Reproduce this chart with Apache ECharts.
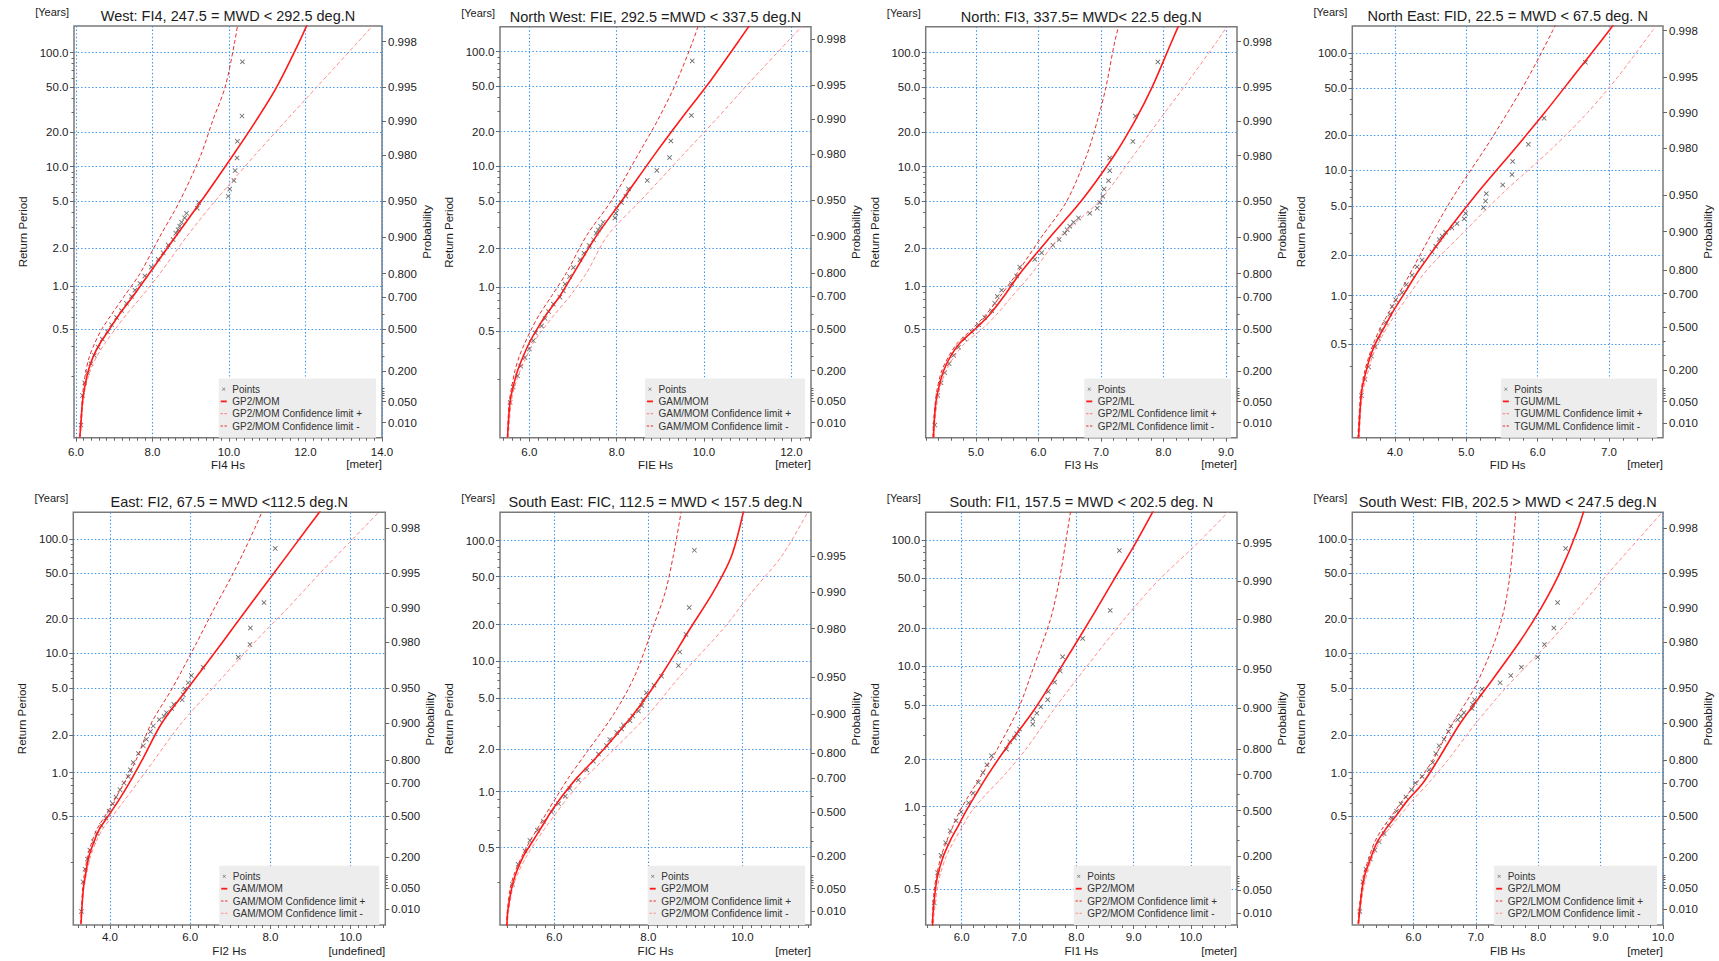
<!DOCTYPE html>
<html>
<head>
<meta charset="utf-8">
<title>Hs return periods by wave direction sector</title>
<script src="https://cdn.jsdelivr.net/npm/echarts@6/dist/echarts.min.js"></script>
<style>
  html, body { margin: 0; padding: 0; background: #ffffff; }
  #chart { width: 1719px; height: 961px; }
</style>
</head>
<body>
<div id="chart"></div>
<script>
// ---------------------------------------------------------------------------
// Shared levels
// ---------------------------------------------------------------------------
// Non-exceedance probabilities at which the fitted curves are tabulated
const probLevels = [0.002, 0.01, 0.05, 0.1, 0.2, 0.3, 0.4, 0.5, 0.6, 0.7, 0.8, 0.9, 0.95, 0.98, 0.99, 0.995, 0.998, 0.999];
// Return periods (years) of the ranked storm peaks, largest first
const rankPeriods = [83.0, 27.7, 16.6, 11.9, 9.22, 7.55, 6.38, 5.53, 4.88, 4.37, 3.95, 3.61, 3.32, 3.07, 2.86, 2.68, 2.37, 2.13,
  1.84, 1.63, 1.41, 1.20, 1.05, 0.933, 0.838, 0.748, 0.664, 0.597, 0.535, 0.485, 0.439, 0.397, 0.362, 0.333, 0.308, 0.287, 0.269, 0.252];
// Left axis (return period) and right axis (probability) tick values
const periodTicks = [0.5, 1, 2, 5, 10, 20, 50, 100];
const periodMinorTicks = [0.3, 0.4, 0.6, 0.7, 0.8, 0.9, 3, 4, 6, 7, 8, 9, 30, 40, 60, 70, 80, 90, 200];
const probTicks = [0.01, 0.05, 0.2, 0.5, 0.7, 0.8, 0.9, 0.95, 0.98, 0.99, 0.995, 0.998];
const probMinorTicks = [0.06, 0.07, 0.08, 0.09, 0.1, 0.3, 0.4, 0.6];

// Sector labels
const sectorTitles = [
  'West: FI4, 247.5 = MWD < 292.5 deg.N',
  'North West: FIE, 292.5 =MWD < 337.5 deg.N',
  'North: FI3, 337.5= MWD< 22.5 deg.N',
  'North East: FID, 22.5 = MWD < 67.5 deg. N',
  'East: FI2, 67.5 = MWD <112.5 deg.N',
  'South East: FIC, 112.5 = MWD < 157.5 deg.N',
  'South: FI1, 157.5 = MWD < 202.5 deg. N',
  'South West: FIB, 202.5 > MWD < 247.5 deg.N'
];
const hsNames = ['FI4 Hs', 'FIE Hs', 'FI3 Hs', 'FID Hs', 'FI2 Hs', 'FIC Hs', 'FI1 Hs', 'FIB Hs'];
const unitLabels = ['[meter]', '[meter]', '[meter]', '[meter]', '[undefined]', '[meter]', '[meter]', '[meter]'];
const fitMethods = ['GP2/MOM', 'GAM/MOM', 'GP2/ML', 'TGUM/ML', 'GAM/MOM', 'GP2/MOM', 'GP2/MOM', 'GP2/LMOM'];
// Storm events per year in each sector
const eventRates = [4.0, 3.9, 4.0, 3.23, 4.0, 2.69, 2.11, 4.0];

// ---------------------------------------------------------------------------
// West (FI4)
const westTicks = [6, 8, 10, 12, 14];
const westFit   = [6.10, 6.13, 6.17, 6.22, 6.32, 6.45, 6.63, 6.87, 7.13, 7.48, 7.91, 8.60, 9.27, 10.10, 10.70, 11.25, 11.84, 12.24];
const westUpper = [6.10, 6.12, 6.16, 6.19, 6.26, 6.35, 6.49, 6.67, 6.93, 7.25, 7.67, 8.19, 8.71, 9.26, 9.57, 9.90, 10.15, 10.30];
const westLower = [6.11, 6.14, 6.19, 6.24, 6.37, 6.54, 6.76, 7.02, 7.32, 7.71, 8.19, 8.89, 9.63, 10.67, 11.48, 12.30, 13.38, 14.19];
const westPoints = [10.35, 10.34, 10.22, 10.21, 10.16, 10.13, 10.02, 9.98, 9.21, 9.17, 8.89, 8.84, 8.76, 8.71, 8.67, 8.61, 8.54, 8.41,
  8.28, 8.15, 7.97, 7.80, 7.67, 7.54, 7.45, 7.32, 7.19, 7.06, 6.93, 6.82, 6.69, 6.58, 6.48, 6.39, 6.30, 6.23, 6.17, 6.13];

// North West (FIE)
const nwTicks = [6, 8, 10, 12];
const nwFit   = [5.50, 5.52, 5.56, 5.62, 5.73, 5.86, 6.00, 6.18, 6.40, 6.70, 7.02, 7.54, 8.13, 8.88, 9.47, 10.08, 10.82, 11.36];
const nwUpper = [5.50, 5.51, 5.54, 5.59, 5.67, 5.77, 5.90, 6.05, 6.24, 6.51, 6.85, 7.31, 7.89, 8.50, 8.95, 9.34, 9.76, 10.02];
const nwLower = [5.52, 5.54, 5.59, 5.65, 5.79, 5.94, 6.09, 6.32, 6.59, 6.93, 7.31, 7.79, 8.56, 9.54, 10.28, 10.99, 11.96, 12.69];
const nwPoints = [9.73, 9.71, 9.24, 9.21, 8.92, 8.70, 8.27, 8.21, 8.11, 8.00, 7.98, 7.96, 7.69, 7.63, 7.58, 7.53, 7.47, 7.37,
  7.25, 7.16, 7.01, 6.92, 6.82, 6.78, 6.70, 6.55, 6.44, 6.36, 6.28, 6.14, 6.09, 6.00, 5.90, 5.80, 5.73, 5.63, 5.56];

// North (FI3)
const northTicks = [5, 6, 7, 8, 9];
const northFit   = [4.32, 4.33, 4.36, 4.40, 4.48, 4.59, 4.74, 4.98, 5.22, 5.44, 5.70, 6.19, 6.68, 7.21, 7.54, 7.82, 8.13, 8.37];
const northUpper = [4.31, 4.32, 4.35, 4.38, 4.45, 4.56, 4.70, 4.93, 5.16, 5.38, 5.65, 6.05, 6.45, 6.77, 6.94, 7.08, 7.22, 7.36];
const northLower = [4.33, 4.34, 4.38, 4.42, 4.52, 4.65, 4.82, 5.09, 5.33, 5.57, 5.89, 6.34, 6.97, 7.52, 7.92, 8.33, 8.85, 9.22];
const northPoints = [7.91, 7.55, 7.51, 7.14, 7.14, 7.12, 7.05, 7.03, 6.98, 6.94, 6.82, 6.64, 6.56, 6.50, 6.46, 6.42, 6.33, 6.23,
  6.05, 5.94, 5.70, 5.65, 5.57, 5.41, 5.34, 5.30, 5.25, 5.14, 5.04, 4.93, 4.82, 4.72, 4.64, 4.57, 4.50, 4.44, 4.39, 4.34];

// North East (FID)
const neTicks = [4, 5, 6, 7];
const neFit   = [3.49, 3.50, 3.52, 3.54, 3.60, 3.66, 3.74, 3.85, 3.97, 4.13, 4.34, 4.73, 5.13, 5.69, 6.10, 6.49, 7.00, 7.37];
const neUpper = [3.48, 3.49, 3.51, 3.53, 3.58, 3.64, 3.71, 3.80, 3.92, 4.06, 4.24, 4.53, 4.83, 5.27, 5.58, 5.87, 6.21, 6.44];
const neLower = [3.50, 3.51, 3.53, 3.56, 3.63, 3.69, 3.78, 3.89, 4.03, 4.21, 4.45, 4.97, 5.48, 6.21, 6.70, 7.12, 7.61, 7.98];
const nePoints = [6.67, 6.09, 5.87, 5.65, 5.64, 5.51, 5.28, 5.27, 5.24, 4.99, 4.97, 4.87, 4.80, 4.71, 4.66, 4.62, 4.57, 4.52,
  4.38, 4.31, 4.24, 4.16, 4.10, 4.01, 3.96, 3.93, 3.87, 3.81, 3.77, 3.72, 3.67, 3.63, 3.58, 3.53];

// East (FI2)
const eastTicks = [4, 6, 8, 10];
const eastFit   = [3.28, 3.30, 3.34, 3.39, 3.47, 3.59, 3.73, 3.96, 4.21, 4.48, 4.80, 5.29, 5.95, 6.81, 7.44, 8.08, 8.92, 9.56];
const eastUpper = [3.27, 3.29, 3.32, 3.36, 3.44, 3.54, 3.67, 3.88, 4.10, 4.35, 4.65, 5.03, 5.56, 6.17, 6.61, 7.07, 7.61, 7.98];
const eastLower = [3.29, 3.30, 3.35, 3.41, 3.51, 3.64, 3.81, 4.07, 4.35, 4.68, 5.10, 5.78, 6.57, 7.61, 8.44, 9.23, 10.31, 11.14];
const eastPoints = [8.12, 7.84, 7.50, 7.49, 7.20, 6.32, 6.03, 5.95, 5.87, 5.83, 5.80, 5.59, 5.54, 5.41, 5.35, 5.23, 5.08, 5.01,
  4.91, 4.83, 4.71, 4.58, 4.51, 4.46, 4.35, 4.25, 4.15, 4.07, 3.98, 3.90, 3.79, 3.68, 3.59, 3.50, 3.44, 3.38, 3.33, 3.29];

// South East (FIC)
const seTicks = [6, 8, 10];
const seFit   = [4.99, 5.01, 5.09, 5.17, 5.34, 5.54, 5.73, 5.92, 6.16, 6.48, 6.97, 7.68, 8.25, 8.89, 9.38, 9.77, 10.04, 10.18];
const seUpper = [4.98, 5.00, 5.06, 5.14, 5.31, 5.48, 5.66, 5.84, 6.05, 6.30, 6.67, 7.26, 7.70, 8.09, 8.36, 8.53, 8.71, 8.82];
const seLower = [4.99, 5.03, 5.11, 5.21, 5.41, 5.61, 5.82, 6.05, 6.30, 6.65, 7.18, 8.00, 8.66, 9.60, 10.20, 10.84, 11.44, 11.87];
const sePoints = [8.98, 8.87, 8.80, 8.67, 8.64, 8.28, 8.12, 7.96, 7.89, 7.86, 7.79, 7.67, 7.61, 7.47, 7.43, 7.33, 7.18, 7.11,
  6.94, 6.83, 6.69, 6.51, 6.33, 6.23, 6.09, 5.94, 5.77, 5.64, 5.48, 5.38, 5.23, 5.11];

// South (FI1)
const southTicks = [6, 7, 8, 9, 10];
const southFit   = [5.49, 5.50, 5.54, 5.58, 5.68, 5.80, 5.94, 6.08, 6.25, 6.46, 6.76, 7.28, 7.71, 8.25, 8.64, 9.03, 9.50, 9.81];
const southUpper = [5.48, 5.49, 5.52, 5.56, 5.64, 5.74, 5.85, 5.97, 6.14, 6.35, 6.62, 6.99, 7.24, 7.55, 7.70, 7.81, 7.94, 7.98];
const southLower = [5.50, 5.52, 5.57, 5.62, 5.73, 5.87, 6.02, 6.18, 6.43, 6.75, 7.12, 7.62, 8.14, 8.84, 9.42, 10.11, 10.96, 11.58];
const southPoints = [8.75, 8.59, 8.11, 7.76, 7.72, 7.62, 7.51, 7.50, 7.38, 7.31, 7.24, 7.24, 7.01, 6.96, 6.92, 6.84, 6.78, 6.52,
  6.44, 6.37, 6.29, 6.20, 6.12, 5.99, 5.90, 5.80, 5.72, 5.64, 5.58, 5.52];

// South West (FIB)
const swTicks = [6, 7, 8, 9, 10];
const swFit   = [5.12, 5.14, 5.18, 5.22, 5.32, 5.41, 5.55, 5.72, 5.90, 6.15, 6.39, 6.75, 7.17, 7.70, 8.05, 8.34, 8.64, 8.81];
const swUpper = [5.11, 5.13, 5.17, 5.20, 5.29, 5.37, 5.49, 5.65, 5.82, 6.05, 6.31, 6.63, 6.98, 7.30, 7.46, 7.55, 7.62, 7.66];
const swLower = [5.12, 5.15, 5.20, 5.25, 5.34, 5.45, 5.60, 5.78, 5.98, 6.24, 6.55, 7.00, 7.48, 8.18, 8.66, 9.12, 9.76, 10.24];
const swPoints = [8.44, 8.31, 8.25, 8.10, 7.99, 7.73, 7.56, 7.39, 7.10, 7.08, 6.98, 6.95, 6.94, 6.81, 6.76, 6.71, 6.60, 6.56,
  6.49, 6.41, 6.36, 6.31, 6.25, 6.14, 6.03, 5.97, 5.88, 5.80, 5.73, 5.66, 5.60, 5.53, 5.45, 5.38, 5.31, 5.24, 5.19, 5.14];

// ---------------------------------------------------------------------------
// Panel layout: plot rectangle [left, top, right, bottom] in px, Hs range,
// and vertical range in Gumbel reduced variate.
// ---------------------------------------------------------------------------
const panels = [
  { key: 'W',  rect: [74, 26, 382, 437.7],        xRange: [5.948, 14.0],  gRange: [-1.832, 6.532], ticks: westTicks,  fit: westFit,  upper: westUpper,  lower: westLower,  points: westPoints },
  { key: 'NW', rect: [500, 26.7, 811, 437.7],     xRange: [5.328, 12.45], gRange: [-1.830, 6.470], ticks: nwTicks,    fit: nwFit,    upper: nwUpper,    lower: nwLower,    points: nwPoints },
  { key: 'N',  rect: [925.7, 26.7, 1237, 437.7],  xRange: [4.195, 9.176], gRange: [-1.832, 6.519], ticks: northTicks, fit: northFit, upper: northUpper, lower: northLower, points: northPoints },
  { key: 'NE', rect: [1352.3, 26, 1663, 437.7],   xRange: [3.402, 7.757], gRange: [-1.810, 6.306], ticks: neTicks,    fit: neFit,    upper: neUpper,    lower: neLower,    points: nePoints },
  { key: 'E',  rect: [73.3, 512.3, 385.3, 925],   xRange: [3.087, 10.863], gRange: [-1.852, 6.539], ticks: eastTicks, fit: eastFit,  upper: eastUpper,  lower: eastLower,  points: eastPoints },
  { key: 'SE', rect: [500, 512.3, 811, 925],      xRange: [4.844, 11.461], gRange: [-1.796, 6.135], ticks: seTicks,   fit: seFit,    upper: seUpper,    lower: seLower,    points: sePoints },
  { key: 'S',  rect: [925.7, 512.3, 1237, 925],   xRange: [5.372, 10.802], gRange: [-1.742, 5.868], ticks: southTicks, fit: southFit, upper: southUpper, lower: southLower, points: southPoints },
  { key: 'SW', rect: [1352.3, 512.3, 1663, 925],  xRange: [5.020, 10.0],  gRange: [-1.852, 6.539], ticks: swTicks,   fit: swFit,    upper: swUpper,    lower: swLower,    points: swPoints }
];

// ---------------------------------------------------------------------------
// Gumbel probability paper
// ---------------------------------------------------------------------------
const gumbel = p => -Math.log(-Math.log(p));
const probOfG = g => Math.exp(-Math.exp(-g));
const gOfPeriod = (T, rate) => { const p = 1 - 1 / (rate * T); return p > 0 ? gumbel(p) : NaN; };
const periodOfG = (g, rate) => 1 / (rate * (1 - probOfG(g)));
function stepValues(lo, hi, step) {
  const out = [];
  for (let k = Math.ceil(lo / step - 1e-9); k * step <= hi + 1e-9; k++) out.push(+(k * step).toFixed(4));
  return out;
}

const FONT = '"Liberation Sans", Arial, Helvetica, sans-serif';
const CW = 1719, CH = 961;
const TEXT = '#1c1c1c';
const FRAME = '#7a7a7a';
const TICK = { color: '#666666', width: 1 };
const GRID_DOTS = { color: '#3a93ee', width: 1.1, type: [1.4, 2.2] };
const RED = '#ff1a1a';
const DARK_DASH = '#e62e2e';
const LIGHT_DASH = '#ff8c8c';
// Marker and legend glyphs
const CROSS = 'path://M0,1.2L1.2,0L5,3.8L8.8,0L10,1.2L6.2,5L10,8.8L8.8,10L5,6.2L1.2,10L0,8.8L3.8,5Z';
const CROSS_ICON = 'path://M0,0M7,10M1.8,3.7L2.2,3.3L3.5,4.6L4.8,3.3L5.2,3.7L3.9,5L5.2,6.3L4.8,6.7L3.5,5.4L2.2,6.7L1.8,6.3L3.1,5Z';
const SOLID_ICON = 'path://M0,0M7,10M0.5,4.1h6v1.8h-6z';
const DASH_ICON = 'path://M0,0M7,10M0.3,4.4h2.4v1.1h-2.4zM4.2,4.4h2.4v1.1h-2.4z';

const option = {
  animation: false,
  backgroundColor: '#ffffff',
  textStyle: { fontFamily: FONT },
  grid: [], xAxis: [], yAxis: [], series: [], legend: [], graphic: []
};

panels.forEach((p, i) => {
  const [L, T, R, B] = p.rect;
  const row = i < 4 ? 0 : 1;
  const rate = eventRates[i];
  const method = fitMethods[i];

  option.grid.push({
    left: L, top: T, width: R - L, height: B - T,
    show: true, borderColor: FRAME, borderWidth: 1.5, backgroundColor: 'rgba(0,0,0,0)',
    containLabel: false, outerBoundsMode: 'none'
  });

  const labelStyle = { fontSize: 11.5, color: TEXT, fontFamily: FONT };
  const [gMin, gMax] = p.gRange;
  const noLine = { show: false, onZero: false };

  // Hs axis with gridlines, plus a companion carrying the minor ticks
  option.xAxis.push({
    type: 'value', gridIndex: i, min: p.xRange[0], max: p.xRange[1], position: 'bottom',
    axisLine: noLine,
    axisTick: { show: true, customValues: p.ticks, length: 4, lineStyle: TICK },
    axisLabel: Object.assign({ customValues: p.ticks, margin: row === 0 ? 8 : 6, formatter: v => v.toFixed(1) }, labelStyle),
    splitLine: { show: true, lineStyle: GRID_DOTS },
    name: hsNames[i], nameLocation: 'middle', nameGap: 20,
    nameTextStyle: labelStyle
  });
  option.xAxis.push({
    type: 'value', gridIndex: i, min: p.xRange[0], max: p.xRange[1], position: 'bottom',
    axisLine: noLine,
    axisTick: { show: true, customValues: stepValues(p.xRange[0], p.xRange[1], 0.2), length: 3, lineStyle: TICK },
    axisLabel: { show: false }, splitLine: { show: false }
  });

  const yBase = { type: 'value', gridIndex: i, min: gMin, max: gMax, axisLine: noLine };
  const inRange = v => isFinite(v) && v >= gMin && v <= gMax;
  const periodVals = periodTicks.map(t => gOfPeriod(t, rate)).filter(inRange);
  const periodMinorVals = periodMinorTicks.map(t => gOfPeriod(t, rate)).filter(inRange);
  const probVals = probTicks.map(gumbel).filter(inRange);
  const probMinorVals = probMinorTicks.map(gumbel).filter(inRange);

  // Return period (left) with horizontal gridlines
  option.yAxis.push(Object.assign({}, yBase, {
    position: 'left',
    axisTick: { show: true, customValues: periodVals, length: 4, lineStyle: TICK },
    axisLabel: Object.assign({ customValues: periodVals, margin: 5.5, formatter: v => periodOfG(v, rate).toFixed(1) }, labelStyle),
    splitLine: { show: true, lineStyle: GRID_DOTS },
    name: 'Return Period', nameLocation: 'middle', nameGap: 45, nameRotate: 90,
    nameTextStyle: labelStyle
  }));
  // Probability (right)
  option.yAxis.push(Object.assign({}, yBase, {
    position: 'right',
    axisTick: { show: true, customValues: probVals, length: 4, lineStyle: TICK },
    axisLabel: Object.assign({ customValues: probVals, margin: 6, formatter: v => probOfG(v).toFixed(3) }, labelStyle),
    splitLine: { show: false },
    name: 'Probability', nameLocation: 'middle', nameGap: 37, nameRotate: 90,
    nameTextStyle: labelStyle
  }));
  // Minor ticks on both vertical axes
  option.yAxis.push(Object.assign({}, yBase, {
    position: 'left',
    axisTick: { show: true, customValues: periodMinorVals, length: 2.5, lineStyle: TICK },
    axisLabel: { show: false }, splitLine: { show: false }
  }));
  option.yAxis.push(Object.assign({}, yBase, {
    position: 'right',
    axisTick: { show: true, customValues: probMinorVals, length: 2.5, lineStyle: TICK },
    axisLabel: { show: false }, splitLine: { show: false }
  }));

  const xIdx = 2 * i, yIdx = 4 * i;
  const curve = hs => probLevels.map((pr, k) => [hs[k], gumbel(pr)]);
  // The steeper (left) limit is drawn darker; its sign differs between the two rows
  const leftSign = row === 0 ? '-' : '+';
  const rightSign = row === 0 ? '+' : '-';
  const names = {
    pts: p.key + '|Points',
    fit: p.key + '|' + method,
    left: p.key + '|' + method + ' Confidence limit ' + leftSign,
    right: p.key + '|' + method + ' Confidence limit ' + rightSign
  };
  const plusName = row === 0 ? names.right : names.left;
  const minusName = row === 0 ? names.left : names.right;
  const lineBase = { type: 'line', xAxisIndex: xIdx, yAxisIndex: yIdx, symbol: 'none', smooth: 0.3, silent: true };

  option.series.push({
    type: 'scatter', name: names.pts, xAxisIndex: xIdx, yAxisIndex: yIdx,
    data: p.points.map((hs, k) => [hs, gOfPeriod(rankPeriods[k], rate)]),
    symbol: CROSS, symbolSize: 5, itemStyle: { color: '#444444' }, silent: true, z: 2
  });
  option.series.push(Object.assign({}, lineBase, {
    name: names.left, data: curve(p.upper), z: 3,
    lineStyle: { color: DARK_DASH, width: 1, type: [4, 2.5] }, itemStyle: { color: DARK_DASH }
  }));
  option.series.push(Object.assign({}, lineBase, {
    name: names.right, data: curve(p.lower), z: 3,
    lineStyle: { color: LIGHT_DASH, width: 1, type: [4, 2.5] }, itemStyle: { color: LIGHT_DASH }
  }));
  option.series.push(Object.assign({}, lineBase, {
    name: names.fit, data: curve(p.fit), z: 4,
    lineStyle: { color: RED, width: 1.6 }, itemStyle: { color: RED }
  }));

  option.legend.push({
    orient: 'vertical', right: CW - R + 6, bottom: CH - B,
    backgroundColor: '#ededed', padding: [5.7, 14, 6.7, 1.5],
    itemWidth: 7, itemHeight: 10, itemGap: 2.3, selectedMode: false,
    textStyle: { fontSize: 10, color: '#333333', fontFamily: FONT },
    formatter: n => n.split('|')[1],
    data: [
      { name: names.pts, icon: CROSS_ICON },
      { name: names.fit, icon: SOLID_ICON },
      { name: plusName, icon: DASH_ICON },
      { name: minusName, icon: DASH_ICON }
    ]
  });

  const textStyle = (text, size, align) => ({
    text, fontSize: size, fontFamily: FONT, fill: TEXT,
    align, textAlign: align, verticalAlign: 'middle', textVerticalAlign: 'middle'
  });
  option.graphic.push(
    { type: 'text', x: (L + R) / 2, y: T - 10, style: textStyle(sectorTitles[i], 14.5, 'center') },
    { type: 'text', x: L - 5, y: T - 14, style: textStyle('[Years]', 11, 'right') },
    { type: 'text', x: R, y: B + 26, style: textStyle(unitLabels[i], 11.5, 'right') }
  );
});

const chart = echarts.init(document.getElementById('chart'), null, { renderer: 'svg', width: CW, height: CH });
chart.setOption(option);
</script>
</body>
</html>
